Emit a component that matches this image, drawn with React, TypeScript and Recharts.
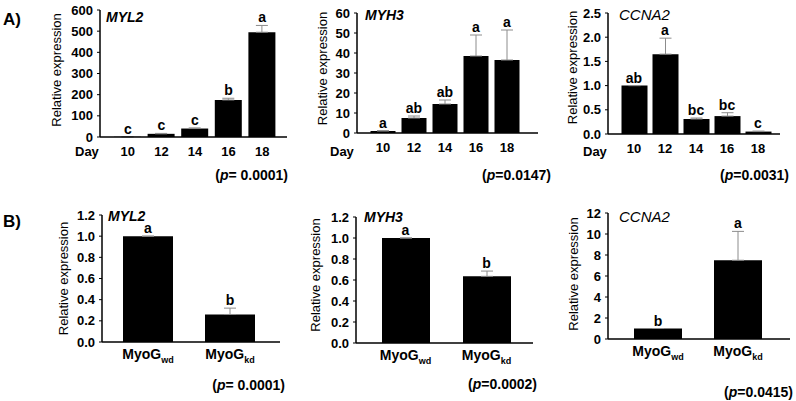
import React from "react";
import {
  ComposedChart,
  Bar,
  Line,
  XAxis,
  YAxis,
  ErrorBar,
  LabelList,
} from "recharts";

const FONT = "'Liberation Sans', Arial, Helvetica, sans-serif";

// ---- data ----
const days = ["10", "12", "14", "16", "18"];

const myl2DayMean = [1, 15, 40, 175, 495];
const myl2DayErr = [0.5, 2, 3, 8, 32];
const myl2DayLetters = ["c", "c", "c", "b", "a"];

const myh3DayMean = [1, 7.5, 14.5, 38.5, 36.5];
const myh3DayErr = [0.2, 1, 2, 10.5, 15];
const myh3DayLetters = ["a", "ab", "ab", "a", "a"];

const ccna2DayMean = [1.0, 1.65, 0.31, 0.37, 0.05];
const ccna2DayErr = [0, 0.33, 0.02, 0.07, 0.01];
const ccna2DayLetters = ["ab", "a", "bc", "bc", "c"];

const groups = ["wd", "kd"];

const myl2KdMean = [1.0, 0.26];
const myl2KdErr = [0, 0.06];
const myl2KdLetters = ["a", "b"];

const myh3KdMean = [1.0, 0.635];
const myh3KdErr = [0, 0.05];
const myh3KdLetters = ["a", "b"];

const ccna2KdMean = [1.0, 7.5];
const ccna2KdErr = [0, 2.75];
const ccna2KdLetters = ["b", "a"];

const ticksMyl2Day = [0, 100, 200, 300, 400, 500, 600];
const ticksMyh3Day = [0, 10, 20, 30, 40, 50, 60];
const ticksCcna2Day = [0, 0.5, 1.0, 1.5, 2.0, 2.5];
const ticksRatio = [0, 0.2, 0.4, 0.6, 0.8, 1.0, 1.2];
const ticksCcna2Kd = [0, 2, 4, 6, 8, 10, 12];

const buildRows = (cats: string[], mean: number[], err: number[], letters: string[]) =>
  cats.map((c, i) => ({
    name: c,
    mean: mean[i],
    err: [0, err[i]],
    top: mean[i] + err[i],
    letter: letters[i],
  }));

const MyoGTick = (props: any) => {
  const { x, y, payload } = props;
  return (
    <text
      x={x}
      y={y}
      dy={13}
      textAnchor="middle"
      fontSize={14}
      fontWeight="bold"
      fill="#000"
      fontFamily={FONT}
    >
      MyoG
      <tspan fontSize={9} dy={4}>
        {payload.value}
      </tspan>
    </text>
  );
};

interface PanelProps {
  rows: any[];
  x0: number;
  x1: number;
  y0: number;
  y1: number;
  max: number;
  ticks: number[];
  decimals: number;
  padL: number;
  padR: number;
  barSize: number;
  myoG?: boolean;
}

function Panel({ rows, x0, x1, y0, y1, max, ticks, decimals, padL, padR, barSize, myoG }: PanelProps) {
  const yW = 50;
  const mTop = 12;
  const w = yW + (x1 - x0) + 5;
  const h = mTop + (y1 - y0) + 30;
  return (
    <div style={{ position: "absolute", left: x0 - yW, top: y0 - mTop }}>
      <ComposedChart
        width={w}
        height={h}
        data={rows}
        margin={{ top: mTop, right: 5, left: 0, bottom: 0 }}
      >
        <XAxis
          dataKey="name"
          height={30}
          padding={{ left: padL, right: padR }}
          axisLine={{ stroke: "#000", strokeWidth: 1.5 }}
          tickLine={false}
          tickSize={0}
          tickMargin={myoG ? 4 : 10}
          interval={0}
          tick={
            myoG ? (
              <MyoGTick />
            ) : (
              { fontSize: 13, fontWeight: "bold", fill: "#000", fontFamily: FONT }
            )
          }
        />
        <YAxis
          width={yW}
          domain={[0, max]}
          ticks={ticks}
          interval={0}
          axisLine={{ stroke: "#000", strokeWidth: 1.5 }}
          tickLine={{ stroke: "#000", strokeWidth: 1 }}
          tickSize={3}
          tickMargin={4}
          tickFormatter={(v: number) => v.toFixed(decimals)}
          tick={{ fontSize: 13, fontWeight: "bold", fill: "#000", fontFamily: FONT }}
        />
        <Bar dataKey="mean" fill="#000" barSize={barSize} isAnimationActive={false}>
          <ErrorBar dataKey="err" width={6} stroke="#8c8c8c" strokeWidth={1} direction="y" />
        </Bar>
        <Line
          dataKey="top"
          stroke="none"
          dot={false}
          activeDot={false}
          legendType="none"
          isAnimationActive={false}
        >
          <LabelList
            dataKey="letter"
            position="top"
            offset={3}
            fill="#000"
            fontSize={14}
            fontWeight="bold"
            fontFamily={FONT}
          />
        </Line>
      </ComposedChart>
    </div>
  );
}

const YLabel = ({ x, y }: { x: number; y: number }) => (
  <text
    x={x}
    y={y}
    transform={`rotate(-90 ${x} ${y})`}
    textAnchor="middle"
    dominantBaseline="central"
    fontSize={13}
    fill="#000"
  >
    Relative expression
  </text>
);

const PText = ({ x, y, v }: { x: number; y: number; v: string }) => (
  <text x={x} y={y} textAnchor="end" fontSize={14} fontWeight="bold" fill="#000">
    (<tspan fontStyle="italic">p</tspan>
    {v})
  </text>
);

export default function App() {
  return (
    <div
      style={{
        position: "absolute",
        left: 0,
        top: 0,
        width: 796,
        height: 401,
        background: "#fff",
        fontFamily: FONT,
        overflow: "hidden",
      }}
    >
      <Panel rows={buildRows(days, myl2DayMean, myl2DayErr, myl2DayLetters)} x0={100} x1={287} y0={10} y1={137} max={600} ticks={ticksMyl2Day} decimals={0} padL={11} padR={8} barSize={27} />
      <Panel rows={buildRows(days, myh3DayMean, myh3DayErr, myh3DayLetters)} x0={357} x1={538} y0={13} y1={133} max={60} ticks={ticksMyh3Day} decimals={0} padL={10.5} padR={15.5} barSize={25} />
      <Panel rows={buildRows(days, ccna2DayMean, ccna2DayErr, ccna2DayLetters)} x0={608} x1={780} y0={13} y1={134} max={2.5} ticks={ticksCcna2Day} decimals={1} padL={10.5} padR={6.5} barSize={26} />
      <Panel rows={buildRows(groups, myl2KdMean, myl2KdErr, myl2KdLetters)} x0={102} x1={280} y0={215} y1={342} max={1.2} ticks={ticksRatio} decimals={1} padL={5} padR={9} barSize={50} myoG />
      <Panel rows={buildRows(groups, myh3KdMean, myh3KdErr, myh3KdLetters)} x0={356} x1={533} y0={217} y1={343} max={1.2} ticks={ticksRatio} decimals={1} padL={9} padR={6} barSize={48} myoG />
      <Panel rows={buildRows(groups, ccna2KdMean, ccna2KdErr, ccna2KdLetters)} x0={608} x1={790} y0={213} y1={339} max={12} ticks={ticksCcna2Kd} decimals={0} padL={10} padR={12} barSize={48} myoG />

      <svg
        width={796}
        height={401}
        style={{ position: "absolute", left: 0, top: 0, pointerEvents: "none" }}
        fontFamily={FONT}
      >
        <text x={3} y={25} fontSize={17} fontWeight="bold" fill="#000">A)</text>
        <text x={3} y={227} fontSize={17} fontWeight="bold" fill="#000">B)</text>

        <YLabel x={56} y={70} />
        <YLabel x={322} y={68.5} />
        <YLabel x={572} y={67.5} />
        <YLabel x={63} y={278.5} />
        <YLabel x={315} y={275} />
        <YLabel x={573} y={274} />

        <text x={106} y={22} fontSize={14} fontWeight="bold" fontStyle="italic" fill="#000">MYL2</text>
        <text x={365} y={20} fontSize={14} fontWeight="bold" fontStyle="italic" fill="#000">MYH3</text>
        <text x={619} y={20} fontSize={15} fontStyle="italic" fill="#000">CCNA2</text>
        <text x={108} y={221} fontSize={14} fontWeight="bold" fontStyle="italic" fill="#000">MYL2</text>
        <text x={364} y={222} fontSize={14} fontWeight="bold" fontStyle="italic" fill="#000">MYH3</text>
        <text x={619} y={222} fontSize={15} fontStyle="italic" fill="#000">CCNA2</text>

        <text x={75} y={156} fontSize={13} fontWeight="bold" fill="#000">Day</text>
        <text x={330} y={156} fontSize={13} fontWeight="bold" fill="#000">Day</text>
        <text x={583} y={156} fontSize={13} fontWeight="bold" fill="#000">Day</text>

        <PText x={288} y={180} v="= 0.0001" />
        <PText x={551} y={180} v="=0.0147" />
        <PText x={789} y={180} v="=0.0031" />
        <PText x={285} y={390} v="= 0.0001" />
        <PText x={537} y={389} v="=0.0002" />
        <PText x={793} y={397} v="=0.0415" />
      </svg>
    </div>
  );
}
